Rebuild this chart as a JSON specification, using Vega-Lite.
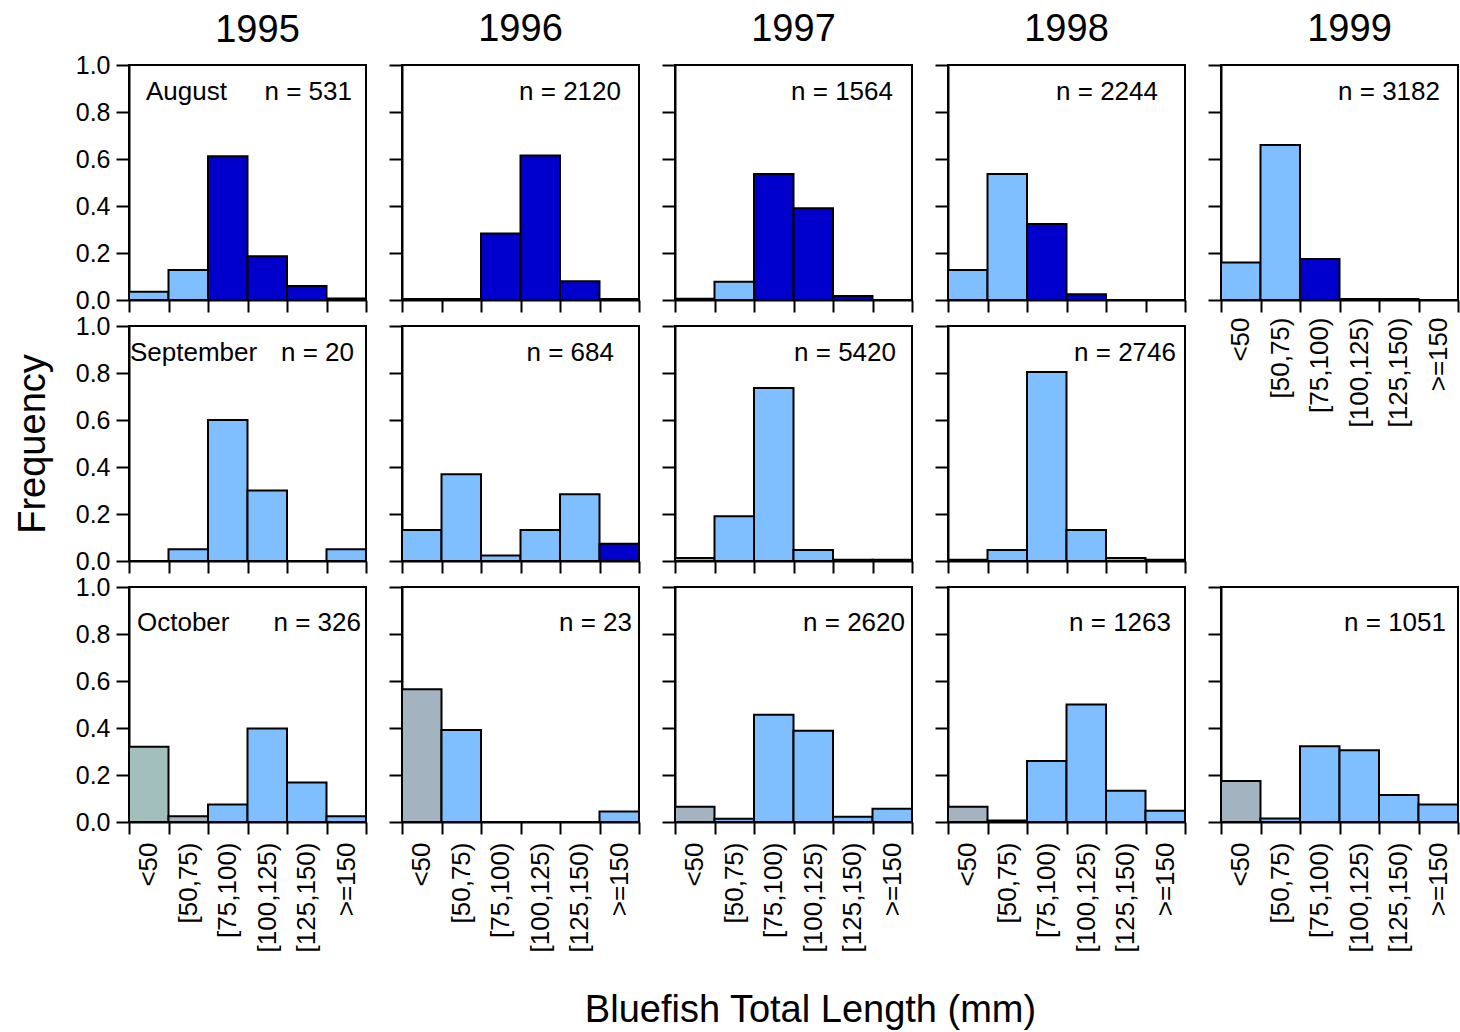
{
"$schema":"https://vega.github.io/schema/vega-lite/v6.json",
"background":"white",
"padding":{"left":13,"top":10,"right":0,"bottom":4},
"datasets":{
"bars":[
{"year":1995,"month":"August","length":"<50","freq":0.035,"cohort":"spring"},
{"year":1995,"month":"August","length":"[50,75)","freq":0.128,"cohort":"spring"},
{"year":1995,"month":"August","length":"[75,100)","freq":0.612,"cohort":"summer"},
{"year":1995,"month":"August","length":"[100,125)","freq":0.186,"cohort":"summer"},
{"year":1995,"month":"August","length":"[125,150)","freq":0.06,"cohort":"summer"},
{"year":1995,"month":"August","length":">=150","freq":0.006,"cohort":"summer"},
{"year":1996,"month":"August","length":"<50","freq":0.004,"cohort":"summer"},
{"year":1996,"month":"August","length":"[50,75)","freq":0.004,"cohort":"summer"},
{"year":1996,"month":"August","length":"[75,100)","freq":0.283,"cohort":"summer"},
{"year":1996,"month":"August","length":"[100,125)","freq":0.615,"cohort":"summer"},
{"year":1996,"month":"August","length":"[125,150)","freq":0.08,"cohort":"summer"},
{"year":1996,"month":"August","length":">=150","freq":0.004,"cohort":"summer"},
{"year":1997,"month":"August","length":"<50","freq":0.005,"cohort":"summer"},
{"year":1997,"month":"August","length":"[50,75)","freq":0.078,"cohort":"spring"},
{"year":1997,"month":"August","length":"[75,100)","freq":0.536,"cohort":"summer"},
{"year":1997,"month":"August","length":"[100,125)","freq":0.39,"cohort":"summer"},
{"year":1997,"month":"August","length":"[125,150)","freq":0.017,"cohort":"summer"},
{"year":1997,"month":"August","length":">=150","freq":0,"cohort":"summer"},
{"year":1998,"month":"August","length":"<50","freq":0.128,"cohort":"spring"},
{"year":1998,"month":"August","length":"[50,75)","freq":0.536,"cohort":"spring"},
{"year":1998,"month":"August","length":"[75,100)","freq":0.323,"cohort":"summer"},
{"year":1998,"month":"August","length":"[100,125)","freq":0.025,"cohort":"summer"},
{"year":1998,"month":"August","length":"[125,150)","freq":0,"cohort":"summer"},
{"year":1998,"month":"August","length":">=150","freq":0,"cohort":"summer"},
{"year":1999,"month":"August","length":"<50","freq":0.16,"cohort":"spring"},
{"year":1999,"month":"August","length":"[50,75)","freq":0.66,"cohort":"spring"},
{"year":1999,"month":"August","length":"[75,100)","freq":0.175,"cohort":"summer"},
{"year":1999,"month":"August","length":"[100,125)","freq":0.004,"cohort":"summer"},
{"year":1999,"month":"August","length":"[125,150)","freq":0.004,"cohort":"summer"},
{"year":1999,"month":"August","length":">=150","freq":0,"cohort":"spring"},
{"year":1995,"month":"September","length":"<50","freq":0,"cohort":"spring"},
{"year":1995,"month":"September","length":"[50,75)","freq":0.05,"cohort":"spring"},
{"year":1995,"month":"September","length":"[75,100)","freq":0.6,"cohort":"spring"},
{"year":1995,"month":"September","length":"[100,125)","freq":0.3,"cohort":"spring"},
{"year":1995,"month":"September","length":"[125,150)","freq":0,"cohort":"spring"},
{"year":1995,"month":"September","length":">=150","freq":0.05,"cohort":"spring"},
{"year":1996,"month":"September","length":"<50","freq":0.132,"cohort":"spring"},
{"year":1996,"month":"September","length":"[50,75)","freq":0.369,"cohort":"spring"},
{"year":1996,"month":"September","length":"[75,100)","freq":0.023,"cohort":"spring"},
{"year":1996,"month":"September","length":"[100,125)","freq":0.132,"cohort":"spring"},
{"year":1996,"month":"September","length":"[125,150)","freq":0.284,"cohort":"spring"},
{"year":1996,"month":"September","length":">=150","freq":0.073,"cohort":"summer"},
{"year":1997,"month":"September","length":"<50","freq":0.013,"cohort":"spring"},
{"year":1997,"month":"September","length":"[50,75)","freq":0.19,"cohort":"spring"},
{"year":1997,"month":"September","length":"[75,100)","freq":0.736,"cohort":"spring"},
{"year":1997,"month":"September","length":"[100,125)","freq":0.047,"cohort":"spring"},
{"year":1997,"month":"September","length":"[125,150)","freq":0.005,"cohort":"spring"},
{"year":1997,"month":"September","length":">=150","freq":0.005,"cohort":"spring"},
{"year":1998,"month":"September","length":"<50","freq":0.005,"cohort":"spring"},
{"year":1998,"month":"September","length":"[50,75)","freq":0.047,"cohort":"spring"},
{"year":1998,"month":"September","length":"[75,100)","freq":0.804,"cohort":"spring"},
{"year":1998,"month":"September","length":"[100,125)","freq":0.132,"cohort":"spring"},
{"year":1998,"month":"September","length":"[125,150)","freq":0.013,"cohort":"spring"},
{"year":1998,"month":"September","length":">=150","freq":0.005,"cohort":"spring"},
{"year":1995,"month":"October","length":"<50","freq":0.32,"cohort":"fall-early"},
{"year":1995,"month":"October","length":"[50,75)","freq":0.024,"cohort":"fall"},
{"year":1995,"month":"October","length":"[75,100)","freq":0.075,"cohort":"spring"},
{"year":1995,"month":"October","length":"[100,125)","freq":0.398,"cohort":"spring"},
{"year":1995,"month":"October","length":"[125,150)","freq":0.168,"cohort":"spring"},
{"year":1995,"month":"October","length":">=150","freq":0.024,"cohort":"spring"},
{"year":1996,"month":"October","length":"<50","freq":0.565,"cohort":"fall"},
{"year":1996,"month":"October","length":"[50,75)","freq":0.391,"cohort":"spring"},
{"year":1996,"month":"October","length":"[75,100)","freq":0,"cohort":"spring"},
{"year":1996,"month":"October","length":"[100,125)","freq":0,"cohort":"spring"},
{"year":1996,"month":"October","length":"[125,150)","freq":0,"cohort":"spring"},
{"year":1996,"month":"October","length":">=150","freq":0.045,"cohort":"spring"},
{"year":1997,"month":"October","length":"<50","freq":0.065,"cohort":"fall"},
{"year":1997,"month":"October","length":"[50,75)","freq":0.014,"cohort":"spring"},
{"year":1997,"month":"October","length":"[75,100)","freq":0.456,"cohort":"spring"},
{"year":1997,"month":"October","length":"[100,125)","freq":0.388,"cohort":"spring"},
{"year":1997,"month":"October","length":"[125,150)","freq":0.022,"cohort":"spring"},
{"year":1997,"month":"October","length":">=150","freq":0.056,"cohort":"spring"},
{"year":1998,"month":"October","length":"<50","freq":0.065,"cohort":"fall"},
{"year":1998,"month":"October","length":"[50,75)","freq":0.006,"cohort":"fall"},
{"year":1998,"month":"October","length":"[75,100)","freq":0.26,"cohort":"spring"},
{"year":1998,"month":"October","length":"[100,125)","freq":0.5,"cohort":"spring"},
{"year":1998,"month":"October","length":"[125,150)","freq":0.133,"cohort":"spring"},
{"year":1998,"month":"October","length":">=150","freq":0.048,"cohort":"spring"},
{"year":1999,"month":"October","length":"<50","freq":0.175,"cohort":"fall"},
{"year":1999,"month":"October","length":"[50,75)","freq":0.015,"cohort":"spring"},
{"year":1999,"month":"October","length":"[75,100)","freq":0.322,"cohort":"spring"},
{"year":1999,"month":"October","length":"[100,125)","freq":0.305,"cohort":"spring"},
{"year":1999,"month":"October","length":"[125,150)","freq":0.115,"cohort":"spring"},
{"year":1999,"month":"October","length":">=150","freq":0.075,"cohort":"spring"}
],
"notes":[
{"year":1995,"month":"August","n":"n = 531"},
{"year":1996,"month":"August","n":"n = 2120"},
{"year":1997,"month":"August","n":"n = 1564"},
{"year":1998,"month":"August","n":"n = 2244"},
{"year":1999,"month":"August","n":"n = 3182"},
{"year":1995,"month":"September","n":"n = 20"},
{"year":1996,"month":"September","n":"n = 684"},
{"year":1997,"month":"September","n":"n = 5420"},
{"year":1998,"month":"September","n":"n = 2746"},
{"year":1995,"month":"October","n":"n = 326"},
{"year":1996,"month":"October","n":"n = 23"},
{"year":1997,"month":"October","n":"n = 2620"},
{"year":1998,"month":"October","n":"n = 1263"},
{"year":1999,"month":"October","n":"n = 1051"}
]
},
"columns":5,
"bounds":"flush",
"spacing":{"row":26,"column":36},
"resolve":{"scale":{"color":"shared"}},
"concat":[
{"width":237,"height":235,"title":{"text":"1995","offset":3,"dx":10},"layer":[
{"data":{"name":"bars"},"transform":[{"filter":"datum.year==1995 && datum.month=='August'"}],"mark":"bar","encoding":{
"x":{"field":"length","type":"nominal","scale":{"domain":["<50","[50,75)","[75,100)","[100,125)","[125,150)",">=150"],"paddingInner":0,"paddingOuter":0},"axis":{"title":null,"labels":false}},
"y":{"field":"freq","type":"quantitative","scale":{"domain":[0,1],"nice":false},"axis":{"title":null,"values":[0,0.1,0.2,0.3,0.4,0.5,0.6,0.7,0.8,0.9,1],"labelExpr":"round(datum.value*10)%2==0 ? format(datum.value,'.1f') : ''","tickSize":{"condition":{"test":"round(datum.value*10)%2==0","value":13},"value":6}}},
"color":{"field":"cohort","type":"nominal","scale":{"domain":["spring","summer","fall","fall-early"],"range":["#80bfff","#0000cc","#a3b3bf","#a3bfbd"]},"legend":null}}},
{"data":{"name":"notes"},"transform":[{"filter":"datum.year==1995 && datum.month=='August'"}],"mark":{"type":"text","align":"right","baseline":"middle","dx":-14},"encoding":{"x":{"datum":">=150","bandPosition":1},"y":{"datum":0.885},"text":{"field":"n"}}},
{"data":{"name":"notes"},"transform":[{"filter":"datum.year==1995 && datum.month=='August'"}],"mark":{"type":"text","align":"left","baseline":"middle","dx":17},"encoding":{"x":{"datum":"<50","bandPosition":0},"y":{"datum":0.885},"text":{"field":"month"}}}
]},
{"width":237,"height":235,"title":{"text":"1996"},"layer":[
{"data":{"name":"bars"},"transform":[{"filter":"datum.year==1996 && datum.month=='August'"}],"mark":"bar","encoding":{
"x":{"field":"length","type":"nominal","scale":{"domain":["<50","[50,75)","[75,100)","[100,125)","[125,150)",">=150"],"paddingInner":0,"paddingOuter":0},"axis":{"title":null,"labels":false}},
"y":{"field":"freq","type":"quantitative","scale":{"domain":[0,1],"nice":false},"axis":{"title":null,"values":[0,0.1,0.2,0.3,0.4,0.5,0.6,0.7,0.8,0.9,1],"labels":false,"tickSize":{"condition":{"test":"round(datum.value*10)%2==0","value":13},"value":6}}},
"color":{"field":"cohort","type":"nominal","scale":{"domain":["spring","summer","fall","fall-early"],"range":["#80bfff","#0000cc","#a3b3bf","#a3bfbd"]},"legend":null}}},
{"data":{"name":"notes"},"transform":[{"filter":"datum.year==1996 && datum.month=='August'"}],"mark":{"type":"text","align":"right","baseline":"middle","dx":-18},"encoding":{"x":{"datum":">=150","bandPosition":1},"y":{"datum":0.885},"text":{"field":"n"}}}
]},
{"width":237,"height":235,"title":{"text":"1997"},"layer":[
{"data":{"name":"bars"},"transform":[{"filter":"datum.year==1997 && datum.month=='August'"}],"mark":"bar","encoding":{
"x":{"field":"length","type":"nominal","scale":{"domain":["<50","[50,75)","[75,100)","[100,125)","[125,150)",">=150"],"paddingInner":0,"paddingOuter":0},"axis":{"title":null,"labels":false}},
"y":{"field":"freq","type":"quantitative","scale":{"domain":[0,1],"nice":false},"axis":{"title":null,"values":[0,0.1,0.2,0.3,0.4,0.5,0.6,0.7,0.8,0.9,1],"labels":false,"tickSize":{"condition":{"test":"round(datum.value*10)%2==0","value":13},"value":6}}},
"color":{"field":"cohort","type":"nominal","scale":{"domain":["spring","summer","fall","fall-early"],"range":["#80bfff","#0000cc","#a3b3bf","#a3bfbd"]},"legend":null}}},
{"data":{"name":"notes"},"transform":[{"filter":"datum.year==1997 && datum.month=='August'"}],"mark":{"type":"text","align":"right","baseline":"middle","dx":-19},"encoding":{"x":{"datum":">=150","bandPosition":1},"y":{"datum":0.885},"text":{"field":"n"}}}
]},
{"width":237,"height":235,"title":{"text":"1998"},"layer":[
{"data":{"name":"bars"},"transform":[{"filter":"datum.year==1998 && datum.month=='August'"}],"mark":"bar","encoding":{
"x":{"field":"length","type":"nominal","scale":{"domain":["<50","[50,75)","[75,100)","[100,125)","[125,150)",">=150"],"paddingInner":0,"paddingOuter":0},"axis":{"title":null,"labels":false}},
"y":{"field":"freq","type":"quantitative","scale":{"domain":[0,1],"nice":false},"axis":{"title":null,"values":[0,0.1,0.2,0.3,0.4,0.5,0.6,0.7,0.8,0.9,1],"labels":false,"tickSize":{"condition":{"test":"round(datum.value*10)%2==0","value":13},"value":6}}},
"color":{"field":"cohort","type":"nominal","scale":{"domain":["spring","summer","fall","fall-early"],"range":["#80bfff","#0000cc","#a3b3bf","#a3bfbd"]},"legend":null}}},
{"data":{"name":"notes"},"transform":[{"filter":"datum.year==1998 && datum.month=='August'"}],"mark":{"type":"text","align":"right","baseline":"middle","dx":-27},"encoding":{"x":{"datum":">=150","bandPosition":1},"y":{"datum":0.885},"text":{"field":"n"}}}
]},
{"width":237,"height":235,"title":{"text":"1999","dx":10},"layer":[
{"data":{"name":"bars"},"transform":[{"filter":"datum.year==1999 && datum.month=='August'"}],"mark":"bar","encoding":{
"x":{"field":"length","type":"nominal","scale":{"domain":["<50","[50,75)","[75,100)","[100,125)","[125,150)",">=150"],"paddingInner":0,"paddingOuter":0},"axis":{"title":null,"labelPadding":5}},
"y":{"field":"freq","type":"quantitative","scale":{"domain":[0,1],"nice":false},"axis":{"title":null,"values":[0,0.1,0.2,0.3,0.4,0.5,0.6,0.7,0.8,0.9,1],"labels":false,"tickSize":{"condition":{"test":"round(datum.value*10)%2==0","value":13},"value":6}}},
"color":{"field":"cohort","type":"nominal","scale":{"domain":["spring","summer","fall","fall-early"],"range":["#80bfff","#0000cc","#a3b3bf","#a3bfbd"]},"legend":null}}},
{"data":{"name":"notes"},"transform":[{"filter":"datum.year==1999 && datum.month=='August'"}],"mark":{"type":"text","align":"right","baseline":"middle","dx":-18},"encoding":{"x":{"datum":">=150","bandPosition":1},"y":{"datum":0.885},"text":{"field":"n"}}}
]},
{"width":237,"height":235,"layer":[
{"data":{"name":"bars"},"transform":[{"filter":"datum.year==1995 && datum.month=='September'"}],"mark":"bar","encoding":{
"x":{"field":"length","type":"nominal","scale":{"domain":["<50","[50,75)","[75,100)","[100,125)","[125,150)",">=150"],"paddingInner":0,"paddingOuter":0},"axis":{"title":null,"labels":false}},
"y":{"field":"freq","type":"quantitative","scale":{"domain":[0,1],"nice":false},"axis":{"title":"Frequency","titlePadding":23,"values":[0,0.1,0.2,0.3,0.4,0.5,0.6,0.7,0.8,0.9,1],"labelExpr":"round(datum.value*10)%2==0 ? format(datum.value,'.1f') : ''","tickSize":{"condition":{"test":"round(datum.value*10)%2==0","value":13},"value":6}}},
"color":{"field":"cohort","type":"nominal","scale":{"domain":["spring","summer","fall","fall-early"],"range":["#80bfff","#0000cc","#a3b3bf","#a3bfbd"]},"legend":null}}},
{"data":{"name":"notes"},"transform":[{"filter":"datum.year==1995 && datum.month=='September'"}],"mark":{"type":"text","align":"right","baseline":"middle","dx":-12},"encoding":{"x":{"datum":">=150","bandPosition":1},"y":{"datum":0.885},"text":{"field":"n"}}},
{"data":{"name":"notes"},"transform":[{"filter":"datum.year==1995 && datum.month=='September'"}],"mark":{"type":"text","align":"left","baseline":"middle","dx":1},"encoding":{"x":{"datum":"<50","bandPosition":0},"y":{"datum":0.885},"text":{"field":"month"}}}
]},
{"width":237,"height":235,"layer":[
{"data":{"name":"bars"},"transform":[{"filter":"datum.year==1996 && datum.month=='September'"}],"mark":"bar","encoding":{
"x":{"field":"length","type":"nominal","scale":{"domain":["<50","[50,75)","[75,100)","[100,125)","[125,150)",">=150"],"paddingInner":0,"paddingOuter":0},"axis":{"title":null,"labels":false}},
"y":{"field":"freq","type":"quantitative","scale":{"domain":[0,1],"nice":false},"axis":{"title":null,"values":[0,0.1,0.2,0.3,0.4,0.5,0.6,0.7,0.8,0.9,1],"labels":false,"tickSize":{"condition":{"test":"round(datum.value*10)%2==0","value":13},"value":6}}},
"color":{"field":"cohort","type":"nominal","scale":{"domain":["spring","summer","fall","fall-early"],"range":["#80bfff","#0000cc","#a3b3bf","#a3bfbd"]},"legend":null}}},
{"data":{"name":"notes"},"transform":[{"filter":"datum.year==1996 && datum.month=='September'"}],"mark":{"type":"text","align":"right","baseline":"middle","dx":-25},"encoding":{"x":{"datum":">=150","bandPosition":1},"y":{"datum":0.885},"text":{"field":"n"}}}
]},
{"width":237,"height":235,"layer":[
{"data":{"name":"bars"},"transform":[{"filter":"datum.year==1997 && datum.month=='September'"}],"mark":"bar","encoding":{
"x":{"field":"length","type":"nominal","scale":{"domain":["<50","[50,75)","[75,100)","[100,125)","[125,150)",">=150"],"paddingInner":0,"paddingOuter":0},"axis":{"title":null,"labels":false}},
"y":{"field":"freq","type":"quantitative","scale":{"domain":[0,1],"nice":false},"axis":{"title":null,"values":[0,0.1,0.2,0.3,0.4,0.5,0.6,0.7,0.8,0.9,1],"labels":false,"tickSize":{"condition":{"test":"round(datum.value*10)%2==0","value":13},"value":6}}},
"color":{"field":"cohort","type":"nominal","scale":{"domain":["spring","summer","fall","fall-early"],"range":["#80bfff","#0000cc","#a3b3bf","#a3bfbd"]},"legend":null}}},
{"data":{"name":"notes"},"transform":[{"filter":"datum.year==1997 && datum.month=='September'"}],"mark":{"type":"text","align":"right","baseline":"middle","dx":-16},"encoding":{"x":{"datum":">=150","bandPosition":1},"y":{"datum":0.885},"text":{"field":"n"}}}
]},
{"width":237,"height":235,"layer":[
{"data":{"name":"bars"},"transform":[{"filter":"datum.year==1998 && datum.month=='September'"}],"mark":"bar","encoding":{
"x":{"field":"length","type":"nominal","scale":{"domain":["<50","[50,75)","[75,100)","[100,125)","[125,150)",">=150"],"paddingInner":0,"paddingOuter":0},"axis":{"title":null,"labels":false}},
"y":{"field":"freq","type":"quantitative","scale":{"domain":[0,1],"nice":false},"axis":{"title":null,"values":[0,0.1,0.2,0.3,0.4,0.5,0.6,0.7,0.8,0.9,1],"labels":false,"tickSize":{"condition":{"test":"round(datum.value*10)%2==0","value":13},"value":6}}},
"color":{"field":"cohort","type":"nominal","scale":{"domain":["spring","summer","fall","fall-early"],"range":["#80bfff","#0000cc","#a3b3bf","#a3bfbd"]},"legend":null}}},
{"data":{"name":"notes"},"transform":[{"filter":"datum.year==1998 && datum.month=='September'"}],"mark":{"type":"text","align":"right","baseline":"middle","dx":-9},"encoding":{"x":{"datum":">=150","bandPosition":1},"y":{"datum":0.885},"text":{"field":"n"}}}
]},
{"width":237,"height":235,"data":{"values":[{"blank":1}]},"mark":{"type":"text","text":""},"encoding":{},"view":{"stroke":null}},
{"width":237,"height":235,"layer":[
{"data":{"name":"bars"},"transform":[{"filter":"datum.year==1995 && datum.month=='October'"}],"mark":"bar","encoding":{
"x":{"field":"length","type":"nominal","scale":{"domain":["<50","[50,75)","[75,100)","[100,125)","[125,150)",">=150"],"paddingInner":0,"paddingOuter":0},"axis":{"title":null}},
"y":{"field":"freq","type":"quantitative","scale":{"domain":[0,1],"nice":false},"axis":{"title":null,"values":[0,0.1,0.2,0.3,0.4,0.5,0.6,0.7,0.8,0.9,1],"labelExpr":"round(datum.value*10)%2==0 ? format(datum.value,'.1f') : ''","tickSize":{"condition":{"test":"round(datum.value*10)%2==0","value":13},"value":6}}},
"color":{"field":"cohort","type":"nominal","scale":{"domain":["spring","summer","fall","fall-early"],"range":["#80bfff","#0000cc","#a3b3bf","#a3bfbd"]},"legend":null}}},
{"data":{"name":"notes"},"transform":[{"filter":"datum.year==1995 && datum.month=='October'"}],"mark":{"type":"text","align":"right","baseline":"middle","dx":-5},"encoding":{"x":{"datum":">=150","bandPosition":1},"y":{"datum":0.847},"text":{"field":"n"}}},
{"data":{"name":"notes"},"transform":[{"filter":"datum.year==1995 && datum.month=='October'"}],"mark":{"type":"text","align":"left","baseline":"middle","dx":8},"encoding":{"x":{"datum":"<50","bandPosition":0},"y":{"datum":0.847},"text":{"field":"month"}}}
]},
{"width":237,"height":235,"layer":[
{"data":{"name":"bars"},"transform":[{"filter":"datum.year==1996 && datum.month=='October'"}],"mark":"bar","encoding":{
"x":{"field":"length","type":"nominal","scale":{"domain":["<50","[50,75)","[75,100)","[100,125)","[125,150)",">=150"],"paddingInner":0,"paddingOuter":0},"axis":{"title":null}},
"y":{"field":"freq","type":"quantitative","scale":{"domain":[0,1],"nice":false},"axis":{"title":null,"values":[0,0.1,0.2,0.3,0.4,0.5,0.6,0.7,0.8,0.9,1],"labels":false,"tickSize":{"condition":{"test":"round(datum.value*10)%2==0","value":13},"value":6}}},
"color":{"field":"cohort","type":"nominal","scale":{"domain":["spring","summer","fall","fall-early"],"range":["#80bfff","#0000cc","#a3b3bf","#a3bfbd"]},"legend":null}}},
{"data":{"name":"notes"},"transform":[{"filter":"datum.year==1996 && datum.month=='October'"}],"mark":{"type":"text","align":"right","baseline":"middle","dx":-7},"encoding":{"x":{"datum":">=150","bandPosition":1},"y":{"datum":0.847},"text":{"field":"n"}}}
]},
{"width":237,"height":235,"layer":[
{"data":{"name":"bars"},"transform":[{"filter":"datum.year==1997 && datum.month=='October'"}],"mark":"bar","encoding":{
"x":{"field":"length","type":"nominal","scale":{"domain":["<50","[50,75)","[75,100)","[100,125)","[125,150)",">=150"],"paddingInner":0,"paddingOuter":0},"axis":{"title":"Bluefish Total Length (mm)","titlePadding":40,"titleX":135}},
"y":{"field":"freq","type":"quantitative","scale":{"domain":[0,1],"nice":false},"axis":{"title":null,"values":[0,0.1,0.2,0.3,0.4,0.5,0.6,0.7,0.8,0.9,1],"labels":false,"tickSize":{"condition":{"test":"round(datum.value*10)%2==0","value":13},"value":6}}},
"color":{"field":"cohort","type":"nominal","scale":{"domain":["spring","summer","fall","fall-early"],"range":["#80bfff","#0000cc","#a3b3bf","#a3bfbd"]},"legend":null}}},
{"data":{"name":"notes"},"transform":[{"filter":"datum.year==1997 && datum.month=='October'"}],"mark":{"type":"text","align":"right","baseline":"middle","dx":-7},"encoding":{"x":{"datum":">=150","bandPosition":1},"y":{"datum":0.847},"text":{"field":"n"}}}
]},
{"width":237,"height":235,"layer":[
{"data":{"name":"bars"},"transform":[{"filter":"datum.year==1998 && datum.month=='October'"}],"mark":"bar","encoding":{
"x":{"field":"length","type":"nominal","scale":{"domain":["<50","[50,75)","[75,100)","[100,125)","[125,150)",">=150"],"paddingInner":0,"paddingOuter":0},"axis":{"title":null}},
"y":{"field":"freq","type":"quantitative","scale":{"domain":[0,1],"nice":false},"axis":{"title":null,"values":[0,0.1,0.2,0.3,0.4,0.5,0.6,0.7,0.8,0.9,1],"labels":false,"tickSize":{"condition":{"test":"round(datum.value*10)%2==0","value":13},"value":6}}},
"color":{"field":"cohort","type":"nominal","scale":{"domain":["spring","summer","fall","fall-early"],"range":["#80bfff","#0000cc","#a3b3bf","#a3bfbd"]},"legend":null}}},
{"data":{"name":"notes"},"transform":[{"filter":"datum.year==1998 && datum.month=='October'"}],"mark":{"type":"text","align":"right","baseline":"middle","dx":-14},"encoding":{"x":{"datum":">=150","bandPosition":1},"y":{"datum":0.847},"text":{"field":"n"}}}
]},
{"width":237,"height":235,"layer":[
{"data":{"name":"bars"},"transform":[{"filter":"datum.year==1999 && datum.month=='October'"}],"mark":"bar","encoding":{
"x":{"field":"length","type":"nominal","scale":{"domain":["<50","[50,75)","[75,100)","[100,125)","[125,150)",">=150"],"paddingInner":0,"paddingOuter":0},"axis":{"title":null}},
"y":{"field":"freq","type":"quantitative","scale":{"domain":[0,1],"nice":false},"axis":{"title":null,"values":[0,0.1,0.2,0.3,0.4,0.5,0.6,0.7,0.8,0.9,1],"labels":false,"tickSize":{"condition":{"test":"round(datum.value*10)%2==0","value":13},"value":6}}},
"color":{"field":"cohort","type":"nominal","scale":{"domain":["spring","summer","fall","fall-early"],"range":["#80bfff","#0000cc","#a3b3bf","#a3bfbd"]},"legend":null}}},
{"data":{"name":"notes"},"transform":[{"filter":"datum.year==1999 && datum.month=='October'"}],"mark":{"type":"text","align":"right","baseline":"middle","dx":-12},"encoding":{"x":{"datum":">=150","bandPosition":1},"y":{"datum":0.847},"text":{"field":"n"}}}
]}
],
"config":{
"font":"Liberation Sans",
"view":{"stroke":"black","strokeWidth":2},
"axis":{"grid":false,"domainColor":"black","domainWidth":2,"tickColor":"black","tickWidth":2,"labelColor":"black","labelFont":"Liberation Sans","labelFontSize":26,"titleFont":"Liberation Sans","titleFontSize":38,"titleFontWeight":"normal","titleColor":"black","labelFlush":false,"labelOverlap":false},
"axisX":{"tickBand":"extent","tickSize":12,"labelAngle":-90,"labelPadding":8},
"axisY":{"labelPadding":6,"labelFontSize":25},
"title":{"font":"Liberation Sans","fontSize":38,"fontWeight":"normal","color":"black","offset":15},
"bar":{"stroke":"black","strokeWidth":2},
"text":{"font":"Liberation Sans","fontSize":26,"color":"black"}
}
}
